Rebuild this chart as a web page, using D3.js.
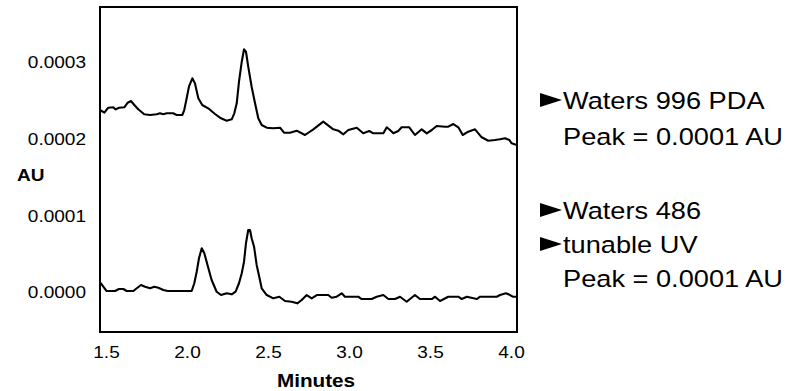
<!DOCTYPE html>
<html>
<head>
<meta charset="utf-8">
<script src="https://cdn.jsdelivr.net/npm/d3@7"></script>
<style>
  html, body { margin: 0; padding: 0; background: #fff; }
  svg { display: block; font-family: "Liberation Sans", Arial, sans-serif; }
</style>
</head>
<body>
<svg id="chart" width="803" height="391"></svg>
<script>
// Chromatogram traces: retention time (minutes) and absorbance (units of 0.0001 AU)
const pdaTime = [1.463,1.490,1.514,1.545,1.560,1.580,1.613,1.634,1.654,1.675,
  1.699,1.736,1.772,1.813,1.833,1.854,1.875,1.915,1.936,1.971,
  1.983,1.998,2.012,2.033,2.049,2.070,2.094,2.131,2.173,2.210,
  2.245,2.276,2.292,2.307,2.321,2.338,2.352,2.364,2.378,2.399,
  2.420,2.440,2.461,2.492,2.533,2.574,2.599,2.636,2.677,2.728,
  2.780,2.841,2.903,2.934,2.965,2.996,3.048,3.088,3.125,3.150,
  3.212,3.233,3.253,3.274,3.304,3.325,3.372,3.407,3.449,3.480,
  3.511,3.541,3.593,3.613,3.644,3.675,3.702,3.736,3.778,3.819,
  3.860,3.901,3.932,3.963,3.990,4.004,4.035];
const pdaAbs = [2.364,2.329,2.394,2.399,2.373,2.394,2.399,2.459,2.481,2.429,
  2.373,2.308,2.299,2.308,2.321,2.308,2.321,2.321,2.299,2.299,
  2.364,2.516,2.667,2.776,2.711,2.516,2.429,2.386,2.312,2.256,
  2.225,2.243,2.321,2.451,2.732,2.992,3.153,3.122,2.927,2.667,
  2.451,2.256,2.169,2.134,2.126,2.134,2.069,2.069,2.095,2.039,
  2.113,2.212,2.113,2.095,2.048,2.104,2.134,2.061,2.091,2.061,
  2.061,2.139,2.104,2.061,2.091,2.139,2.139,2.039,2.113,2.061,
  2.104,2.156,2.147,2.147,2.182,2.139,2.039,2.082,2.113,2.009,
  1.965,1.974,1.983,1.996,1.974,1.931,1.909];

const uvTime = [1.463,1.473,1.504,1.556,1.580,1.607,1.628,1.669,1.690,1.716,
  1.741,1.772,1.798,1.823,1.854,1.881,2.029,2.045,2.060,2.074,
  2.091,2.107,2.132,2.152,2.183,2.210,2.245,2.276,2.300,2.321,
  2.338,2.352,2.364,2.378,2.389,2.399,2.414,2.430,2.446,2.461,
  2.492,2.533,2.570,2.605,2.646,2.681,2.708,2.739,2.770,2.801,
  2.872,2.893,2.924,2.955,2.975,3.057,3.078,3.140,3.171,3.212,
  3.243,3.284,3.315,3.356,3.407,3.438,3.511,3.531,3.562,3.613,
  3.675,3.696,3.727,3.789,3.809,3.912,3.932,3.969,3.994,4.011,
  4.035];
const uvAbs = [0.127,0.098,0.010,0.010,0.036,0.036,0.010,0.010,0.046,0.088,
  0.066,0.046,0.066,0.053,0.023,0.010,0.010,0.111,0.261,0.436,
  0.566,0.501,0.306,0.153,0.001,-0.042,-0.020,-0.033,0.001,0.111,
  0.241,0.391,0.631,0.804,0.804,0.696,0.586,0.349,0.196,0.046,
  -0.042,-0.085,-0.064,-0.120,-0.129,-0.150,-0.107,-0.042,-0.085,-0.042,
  -0.042,-0.077,-0.064,-0.020,-0.064,-0.064,-0.094,-0.094,-0.064,-0.042,
  -0.094,-0.094,-0.064,-0.129,-0.042,-0.094,-0.094,-0.064,-0.120,-0.064,
  -0.064,-0.094,-0.064,-0.094,-0.064,-0.064,-0.042,-0.020,-0.042,-0.064,
  -0.064];

const xTicks = [1.5, 2.0, 2.5, 3.0, 3.5, 4.0];
const xTickLabels = ["1.5", "2.0", "2.5", "3.0", "3.5", "4.0"];
const yTicks = [0, 1, 2, 3];
const yTickLabels = ["0.0000", "0.0001", "0.0002", "0.0003"];
const xDomain = [1.463, 4.037];
const yDomain = [-0.5228, 3.7035];

// Annotation blocks: each row is [text, hasMarker]
const legendBlocks = [
  [["Waters 996 PDA", true], ["Peak = 0.0001 AU", false]],
  [["Waters 486", true], ["tunable UV", true], ["Peak = 0.0001 AU", false]]
];

// ---- layout ----
const box = { left: 100, top: 7, right: 517, bottom: 332 };
const SX = 1.12; // horizontal stretch applied to all text

const svg = d3.select("#chart");

const x = d3.scaleLinear().domain(xDomain).range([box.left, box.right]);
const y = d3.scaleLinear().domain(yDomain).range([box.bottom, box.top]);

// traces
const line = d3.line().x(d => x(d[0])).y(d => y(d[1])).curve(d3.curveLinear);
const traces = [d3.zip(pdaTime, pdaAbs), d3.zip(uvTime, uvAbs)];
svg.append("g").selectAll("path").data(traces).join("path")
  .attr("d", line)
  .attr("fill", "none")
  .attr("stroke", "#000")
  .attr("stroke-width", 2.1)
  .attr("stroke-linejoin", "round");

// frame
svg.append("rect")
  .attr("x", box.left).attr("y", box.top)
  .attr("width", box.right - box.left).attr("height", box.bottom - box.top)
  .attr("fill", "none").attr("stroke", "#000").attr("stroke-width", 2);

// y axis labels
const yAxis = d3.axisLeft(y).tickValues(yTicks).tickSize(0)
  .tickFormat((d, i) => yTickLabels[i]);
const gy = svg.append("g").attr("transform", `translate(${box.left},0)`).call(yAxis);
gy.select(".domain").remove();
gy.selectAll("text")
  .attr("x", -14 / SX)
  .attr("dy", "0.36em")
  .attr("transform", `scale(${SX},1)`)
  .attr("font-family", "Liberation Sans, Arial, sans-serif")
  .attr("font-size", 17)
  .attr("fill", "#000");

// x axis labels
const xAxis = d3.axisBottom(x).tickValues(xTicks).tickSize(0)
  .tickFormat((d, i) => xTickLabels[i]);
const gx = svg.append("g").attr("transform", `translate(0,${box.bottom})`).call(xAxis);
gx.select(".domain").remove();
gx.selectAll("text")
  .attr("y", 14)
  .attr("dy", "0.71em")
  .attr("transform", `scale(${SX},1)`)
  .attr("font-family", "Liberation Sans, Arial, sans-serif")
  .attr("font-size", 17)
  .attr("fill", "#000");

// axis titles
function stretchedText(px, py, text, size, weight, anchor, sx) {
  return svg.append("text")
    .attr("transform", `translate(${px},${py}) scale(${sx || SX},1)`)
    .attr("text-anchor", anchor)
    .attr("font-size", size)
    .attr("font-weight", weight)
    .attr("fill", "#000")
    .text(text);
}
stretchedText(316, 387, "Minutes", 18, "bold", "middle", 1.15);
stretchedText(17, 181, "AU", 17, "bold", "start", 1.12);

// annotations with arrow markers
const blockStart = [108.5, 218.5];
const rowSteps = [36.5, 34];
const textX = 563;
legendBlocks.forEach((rows, bi) => {
  rows.forEach(([label, marker], ri) => {
    const by = blockStart[bi] + ri * rowSteps[bi];
    if (marker) {
      const cy = by - 8.5;
      svg.append("path")
        .attr("d", d3.line()([[540, cy - 7], [562, cy], [540, cy + 7]]) + "Z")
        .attr("fill", "#000");
    }
    stretchedText(textX, by, label, 24.3, "normal", "start");
  });
});
</script>
</body>
</html>
